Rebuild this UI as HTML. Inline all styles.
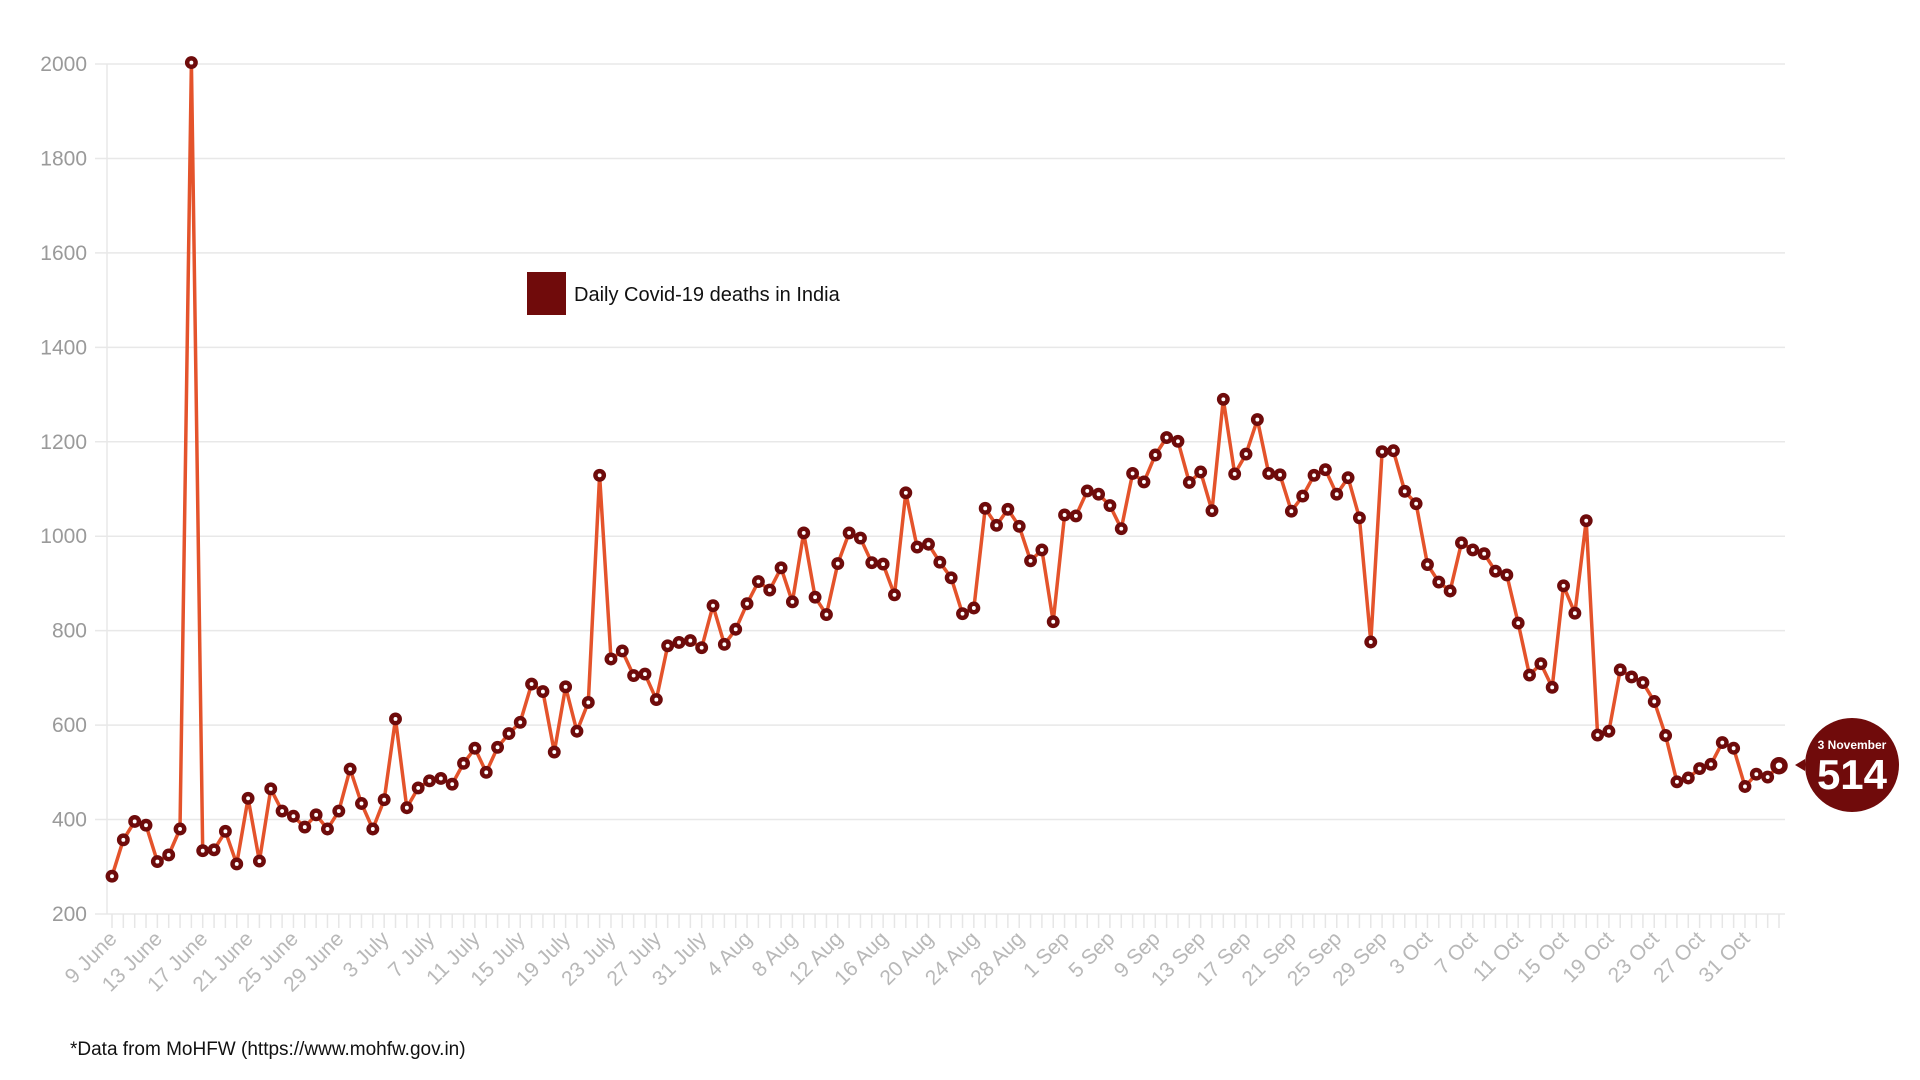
<!DOCTYPE html>
<html><head><meta charset="utf-8"><style>
html,body{margin:0;padding:0;background:#fff;}
svg{display:block;font-family:"Liberation Sans",sans-serif;}
</style></head><body>
<svg id="chart" width="1920" height="1080" viewBox="0 0 1920 1080">
<g id="grid"></g>
<g id="yaxis"></g>
<g id="xaxis"></g>
<g id="series"></g>
<g>
<rect x="527" y="272" width="39" height="43" fill="#700b0b"/>
<text x="574" y="301" font-size="20" fill="#111">Daily Covid-19 deaths in India</text>
</g>
<g>
<polygon points="1795,765 1805,759 1805,771" fill="#700b0b"/>
<circle cx="1852" cy="765" r="47" fill="#700b0b"/>
<text x="1852" y="749" font-size="12" font-weight="bold" fill="#fff" text-anchor="middle">3 November</text>
<text x="1852" y="789" font-size="42" font-weight="bold" fill="#fff" text-anchor="middle">514</text>
</g>
<text x="70" y="1055" font-size="19" fill="#111">*Data from MoHFW (https://www.mohfw.gov.in)</text>
</svg>
<script>
const values=[280,357,396,388,311,325,380,2003,334,336,375,306,445,312,465,418,407,384,410,380,418,507,
434,380,442,613,425,467,482,487,475,519,551,500,553,582,606,687,671,543,681,587,648,1129,740,757,705,708,654,768,775,779,764,
853,771,803,857,904,886,933,861,1007,871,834,942,1007,996,944,941,876,1092,977,983,945,912,836,848,1059,1023,1057,1021,948,971,819,
1045,1043,1096,1089,1065,1016,1133,1115,1172,1209,1201,1114,1136,1054,1290,1132,1174,1247,1133,1130,1053,1085,1129,1141,1089,1124,1039,776,1179,1181,
1095,1069,940,903,884,986,971,963,926,918,816,706,730,680,895,837,1033,579,587,717,702,690,650,578,480,488,508,517,563,551,470,
496,490,514];
const tickLabels=["9 June","13 June","17 June","21 June","25 June","29 June","3 July","7 July","11 July","15 July","19 July","23 July","27 July","31 July","4 Aug","8 Aug","12 Aug","16 Aug","20 Aug","24 Aug","28 Aug","1 Sep","5 Sep","9 Sep","13 Sep","17 Sep","21 Sep","25 Sep","29 Sep","3 Oct","7 Oct","11 Oct","15 Oct","19 Oct","23 Oct","27 Oct","31 Oct"];
const yTicks=[200,400,600,800,1000,1200,1400,1600,1800,2000];
const labelEvery=4;

const NS="http://www.w3.org/2000/svg";
const X0=112,X1=1779,Y0=914,Y1=64,VMIN=200,VMAX=2000,GL=107,GR=1785;
const n=values.length;
const xs=i=>X0+(X1-X0)*i/(n-1);
const ys=v=>Y0-(Y0-Y1)*(v-VMIN)/(VMAX-VMIN);
function mk(tag,attrs,parent){const e=document.createElementNS(NS,tag);for(const k in attrs)e.setAttribute(k,attrs[k]);parent.appendChild(e);return e;}
const grid=document.getElementById('grid'),ya=document.getElementById('yaxis'),xa=document.getElementById('xaxis'),se=document.getElementById('series');
mk('line',{x1:GL,y1:Y1,x2:GL,y2:Y0,stroke:'#e8e8e8','stroke-width':1.5},grid);
yTicks.forEach(t=>{
  const y=ys(t);
  const g=mk('line',{x1:GL-12,y1:y,x2:GR,y2:y,stroke:'#e8e8e8','stroke-width':1.5},grid);
  
  
  const tx=mk('text',{x:87,y:y+7,'font-size':21,fill:'#9a9a9a','text-anchor':'end'},ya);
  tx.textContent=t;
  
  
});
for(let i=0;i<n;i++){
  const x=xs(i);
  const tk=mk('line',{x1:x,y1:Y0,x2:x,y2:Y0+14,stroke:'#e6e6e6','stroke-width':1.5},xa);
  
  
}
tickLabels.forEach((lab,j)=>{
  const x=xs(j*labelEvery)+6,y=Y0+26;
  const tx=mk('text',{x:x,y:y,'font-size':21,fill:'#b8b8b8','text-anchor':'end',transform:`rotate(-45 ${x} ${y})`},xa);
  tx.textContent=lab;
  
  
});
const pts=values.map((v,i)=>xs(i).toFixed(1)+','+ys(v).toFixed(1)).join(' ');
const line=mk('polyline',{points:pts,fill:'none',stroke:'#e4532b','stroke-width':3.5,'stroke-linejoin':'round'},se);


values.forEach((v,i)=>{
  const last=i===n-1;
  const c=mk('circle',{cx:xs(i),cy:ys(v),r:last?6:4.2,fill:'#fff',stroke:'#6e0b0b','stroke-width':last?5.5:4.5},se);
  
  
});
</script>
</body></html>
